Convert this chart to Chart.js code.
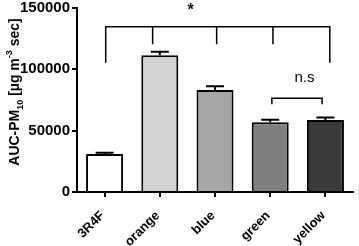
<!DOCTYPE html>
<html>
<head>
<meta charset="utf-8">
<script src="https://cdn.jsdelivr.net/npm/chart.js@4"></script>
<style>
  html, body { margin: 0; padding: 0; background: #fff; }
  #wrap { width: 359px; height: 246px; position: relative; }
</style>
</head>
<body>
<div id="wrap"><canvas id="chartAuc"></canvas></div>
<script>
  // Datos
  const categories = ['3R4F', 'orange', 'blue', 'green', 'yellow'];
  const aucValues = [31000, 111400, 83200, 56800, 58700];
  const aucErrors = [1000, 3000, 3000, 2000, 2000];
  const barColors = ['#ffffff', '#d3d3d3', '#a5a5a5', '#7f7f7f', '#3b3b3b'];
  const yTicks = [0, 50000, 100000, 150000];

  const FONT = '"Liberation Sans", Arial, Helvetica, sans-serif';

  // Barras de error (solo hacia arriba)
  const errorBarsPlugin = {
    id: 'errorBars',
    afterDatasetsDraw(chart) {
      const ctx = chart.ctx;
      const y = chart.scales.y;
      const meta = chart.getDatasetMeta(0);
      ctx.save();
      ctx.strokeStyle = '#000';
      ctx.lineWidth = 2;
      meta.data.forEach((bar, i) => {
        const top = y.getPixelForValue(aucValues[i] + aucErrors[i]);
        ctx.beginPath();
        ctx.moveTo(bar.x, bar.y);
        ctx.lineTo(bar.x, top);
        ctx.moveTo(bar.x - 9, top);
        ctx.lineTo(bar.x + 9, top);
        ctx.stroke();
      });
      ctx.restore();
    }
  };

  // Corchetes de significancia
  const bracketsPlugin = {
    id: 'brackets',
    afterDatasetsDraw(chart) {
      const ctx = chart.ctx;
      const x = chart.scales.x;
      const y = chart.scales.y;
      ctx.save();
      ctx.strokeStyle = '#000';
      ctx.lineWidth = 1.5;

      // Corchete grande (*)
      const topY = y.getPixelForValue(134700);
      const longY = y.getPixelForValue(105400);
      const shortY = y.getPixelForValue(120400);
      const xs = [0.02, 0.87, 2.03, 3.05, 4.08].map(v => x.getPixelForValue(v));
      ctx.beginPath();
      ctx.moveTo(xs[0], longY);
      ctx.lineTo(xs[0], topY);
      ctx.lineTo(xs[4], topY);
      ctx.lineTo(xs[4], longY);
      [1, 2, 3].forEach(k => {
        ctx.moveTo(xs[k], topY);
        ctx.lineTo(xs[k], shortY);
      });
      ctx.stroke();

      // Corchete n.s
      const nsTop = y.getPixelForValue(76500);
      const nsEnd = y.getPixelForValue(71500);
      const nsL = x.getPixelForValue(3.03);
      const nsR = x.getPixelForValue(3.94);
      ctx.beginPath();
      ctx.moveTo(nsL, nsEnd);
      ctx.lineTo(nsL, nsTop);
      ctx.lineTo(nsR, nsTop);
      ctx.lineTo(nsR, nsEnd);
      ctx.stroke();

      ctx.fillStyle = '#000';
      ctx.textAlign = 'center';
      ctx.textBaseline = 'middle';
      ctx.font = '15px ' + FONT;
      ctx.fillText('n.s', x.getPixelForValue(3.62), y.getPixelForValue(93000));
      ctx.font = 'bold 16px ' + FONT;
      ctx.fillText('*', x.getPixelForValue(1.56), y.getPixelForValue(148000));
      ctx.restore();
    }
  };

  // Título del eje Y con subíndice y superíndice
  const yTitlePlugin = {
    id: 'yTitle',
    afterDraw(chart) {
      const ctx = chart.ctx;
      const parts = [
        { t: 'AUC-PM', size: 14, dy: 0 },
        { t: '10', size: 9, dy: 4 },
        { t: ' [µg m', size: 14, dy: 0 },
        { t: '-3', size: 9, dy: -7 },
        { t: ' sec]', size: 14, dy: 0 }
      ];
      ctx.save();
      let total = 0;
      parts.forEach(p => {
        ctx.font = 'bold ' + p.size + 'px ' + FONT;
        p.w = ctx.measureText(p.t).width;
        total += p.w;
      });
      ctx.translate(19, 92);
      ctx.rotate(-Math.PI / 2);
      ctx.fillStyle = '#000';
      ctx.textBaseline = 'alphabetic';
      ctx.textAlign = 'left';
      let cx = -total / 2;
      parts.forEach(p => {
        ctx.font = 'bold ' + p.size + 'px ' + FONT;
        ctx.fillText(p.t, cx, p.dy);
        cx += p.w;
      });
      ctx.restore();
    }
  };

  const config = {
    type: 'bar',
    data: {
      labels: categories,
      datasets: [{
        data: aucValues,
        backgroundColor: barColors,
        borderColor: '#000',
        borderWidth: 2,
        borderSkipped: 'bottom',
        categoryPercentage: 1,
        barPercentage: 0.67
      }]
    },
    options: {
      responsive: true,
      maintainAspectRatio: false,
      animation: false,
      events: [],
      layout: { padding: { top: 8, right: 6, left: 0, bottom: 0 } },
      plugins: {
        legend: { display: false },
        tooltip: { enabled: false }
      },
      scales: {
        x: {
          afterFit: s => { s.height = 54; s.paddingLeft = 0; s.paddingRight = 0; },
          grid: {
            offset: false,
            display: true,
            drawOnChartArea: false,
            drawTicks: true,
            tickLength: 5,
            color: '#000',
            lineWidth: 2
          },
          border: { display: true, color: '#000', width: 2 },
          ticks: {
            color: '#000',
            minRotation: 45,
            maxRotation: 45,
            padding: 11,
            labelOffset: -2,
            font: { family: FONT, size: 13, weight: 'bold' }
          }
        },
        y: {
          min: 0,
          max: 150000,
          afterFit: s => { s.width = 77; s.paddingTop = 0; s.paddingBottom = 0; },
          afterBuildTicks: s => { s.ticks = yTicks.map(v => ({ value: v })); },
          grid: {
            display: true,
            drawOnChartArea: false,
            drawTicks: true,
            tickLength: 5,
            color: '#000',
            lineWidth: 2
          },
          border: { display: true, color: '#000', width: 2 },
          ticks: {
            color: '#000',
            padding: 2,
            callback: v => String(v),
            font: { family: FONT, size: 15, weight: 'bold' }
          }
        }
      }
    },
    plugins: [errorBarsPlugin, bracketsPlugin, yTitlePlugin]
  };

  new Chart(document.getElementById('chartAuc').getContext('2d'), config);
</script>
</body>
</html>
